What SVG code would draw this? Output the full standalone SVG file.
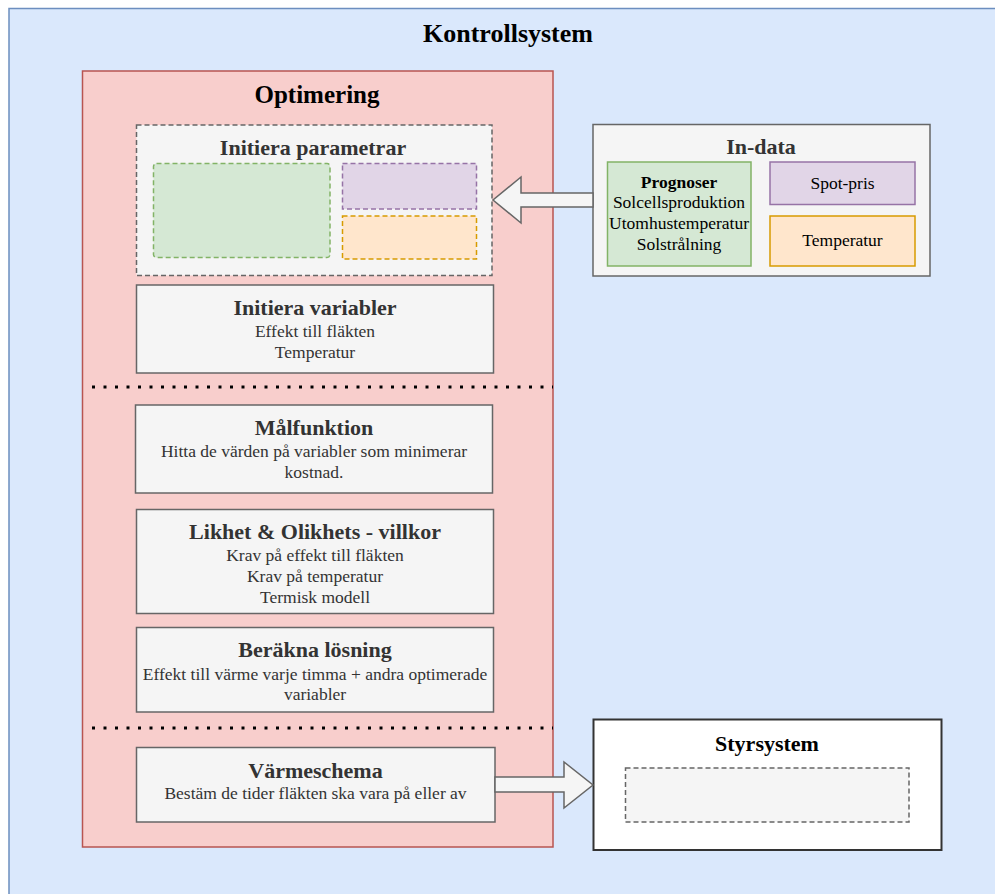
<svg xmlns="http://www.w3.org/2000/svg" width="995" height="894" viewBox="0 0 995 894">
  <defs>
    <style>
      .serif { font-family: "Liberation Serif", "Times New Roman", serif; }
      .h1 { font-size: 25px; font-weight: bold; fill: #000; text-anchor: middle; }
      .h2 { font-size: 22px; font-weight: bold; fill: #333; text-anchor: middle; }
      .h2k { font-size: 22px; font-weight: bold; fill: #000; text-anchor: middle; }
      .body { font-size: 17.5px; fill: #333; text-anchor: middle; }
      .bodyk { font-size: 17.5px; fill: #000; text-anchor: middle; }
      .box { fill: #f5f5f5; stroke: #666; stroke-width: 1.5; }
      .dash { stroke-dasharray: 5 3; }
      .dots { stroke: #000; stroke-width: 3; stroke-dasharray: 3 8.5; fill: none; }
      .bigarrow { fill: #f5f5f5; stroke: #666; stroke-width: 1.5; stroke-linejoin: miter; }
    </style>
  </defs>

  <!-- outer container -->
  <g id="kontrollsystem">
    <rect x="9" y="8.5" width="1000" height="900" fill="#dae8fc" stroke="#6c8ebf" stroke-width="1.5"/>
    <text class="serif h1" x="508" y="42" style="font-size:26px">Kontrollsystem</text>
  </g>

  <!-- optimisation block -->
  <g id="optimering">
    <rect x="82.5" y="71" width="470.5" height="776" fill="#f8cecc" stroke="#b85450" stroke-width="1.5"/>
    <text class="serif h1" x="317" y="103">Optimering</text>
  </g>

  <g id="initiera-parametrar">
    <rect class="box dash" x="136.5" y="125" width="355.5" height="150.5"/>
    <text class="serif h2" x="313" y="155">Initiera parametrar</text>
    <rect class="dash" x="153.5" y="163.5" width="176.5" height="94" rx="3" fill="#d5e8d4" stroke="#82b366" stroke-width="1.5"/>
    <rect class="dash" x="342.5" y="163.5" width="134" height="45.5" fill="#e1d5e7" stroke="#9673a6" stroke-width="1.5"/>
    <rect class="dash" x="342.5" y="216" width="134" height="43" fill="#ffe6cc" stroke="#d79b00" stroke-width="1.5"/>
  </g>

  <g id="initiera-variabler">
    <rect class="box" x="136.5" y="285" width="357" height="88"/>
    <text class="serif h2" x="315" y="315">Initiera variabler</text>
    <text class="serif body" x="315" y="337">Effekt till fläkten</text>
    <text class="serif body" x="315" y="358">Temperatur</text>
  </g>

  <g id="malfunktion">
    <rect class="box" x="135.5" y="405" width="357" height="88"/>
    <text class="serif h2" x="314" y="435">Målfunktion</text>
    <text class="serif body" x="314" y="457">Hitta de värden på variabler som minimerar</text>
    <text class="serif body" x="314" y="478">kostnad.</text>
  </g>

  <g id="villkor">
    <rect class="box" x="136.5" y="509.5" width="357" height="104"/>
    <text class="serif h2" x="315" y="539">Likhet &amp; Olikhets - villkor</text>
    <text class="serif body" x="315" y="561">Krav på effekt till fläkten</text>
    <text class="serif body" x="315" y="582">Krav på temperatur</text>
    <text class="serif body" x="315" y="603">Termisk modell</text>
  </g>

  <g id="berakna-losning">
    <rect class="box" x="136.5" y="627.5" width="357" height="84.5"/>
    <text class="serif h2" x="315" y="657">Beräkna lösning</text>
    <text class="serif body" x="315" y="680">Effekt till värme varje timma + andra optimerade</text>
    <text class="serif body" x="315" y="700">variabler</text>
  </g>

  <g id="varmeschema">
    <rect class="box" x="136.5" y="747.5" width="358.5" height="74.5"/>
    <text class="serif h2" x="315.5" y="778">Värmeschema</text>
    <text class="serif body" x="315.5" y="799">Bestäm de tider fläkten ska vara på eller av</text>
  </g>

  <!-- input data -->
  <g id="in-data">
    <rect class="box" x="593" y="124.5" width="337" height="151.5"/>
    <text class="serif h2" x="761" y="154">In-data</text>
    <rect x="607.5" y="162" width="143.5" height="104" fill="#d5e8d4" stroke="#82b366" stroke-width="1.5"/>
    <text class="serif bodyk" x="679" y="188" font-weight="bold">Prognoser</text>
    <text class="serif bodyk" x="679" y="208">Solcellsproduktion</text>
    <text class="serif bodyk" x="679" y="229">Utomhustemperatur</text>
    <text class="serif bodyk" x="679" y="250">Solstrålning</text>
    <rect x="770" y="162" width="145" height="42.5" fill="#e1d5e7" stroke="#9673a6" stroke-width="1.5"/>
    <text class="serif bodyk" x="842.5" y="189">Spot-pris</text>
    <rect x="770" y="216" width="145" height="50" fill="#ffe6cc" stroke="#d79b00" stroke-width="1.5"/>
    <text class="serif bodyk" x="842.5" y="246">Temperatur</text>
  </g>

  <!-- control system -->
  <g id="styrsystem">
    <rect x="593.5" y="719.5" width="348" height="130.5" fill="#ffffff" stroke="#333" stroke-width="2"/>
    <text class="serif h2k" x="767" y="751">Styrsystem</text>
    <rect class="box dash" x="625.5" y="768" width="283.5" height="54"/>
  </g>

  <!-- connectors -->
  <g id="connectors">
    <!-- section separators -->
    <line class="dots" x1="92" y1="387" x2="553" y2="387"/>
    <line class="dots" x1="92" y1="728" x2="553" y2="728"/>
    <!-- In-data to Initiera parametrar -->
    <path class="bigarrow" d="M593,193 L521,193 L521,177 L493,200 L521,223 L521,207 L593,207 Z"/>
    <!-- Värmeschema to Styrsystem -->
    <path class="bigarrow" d="M495,777 L564,777 L564,762 L593,785 L564,808 L564,792 L495,792 Z"/>
  </g>
</svg>
